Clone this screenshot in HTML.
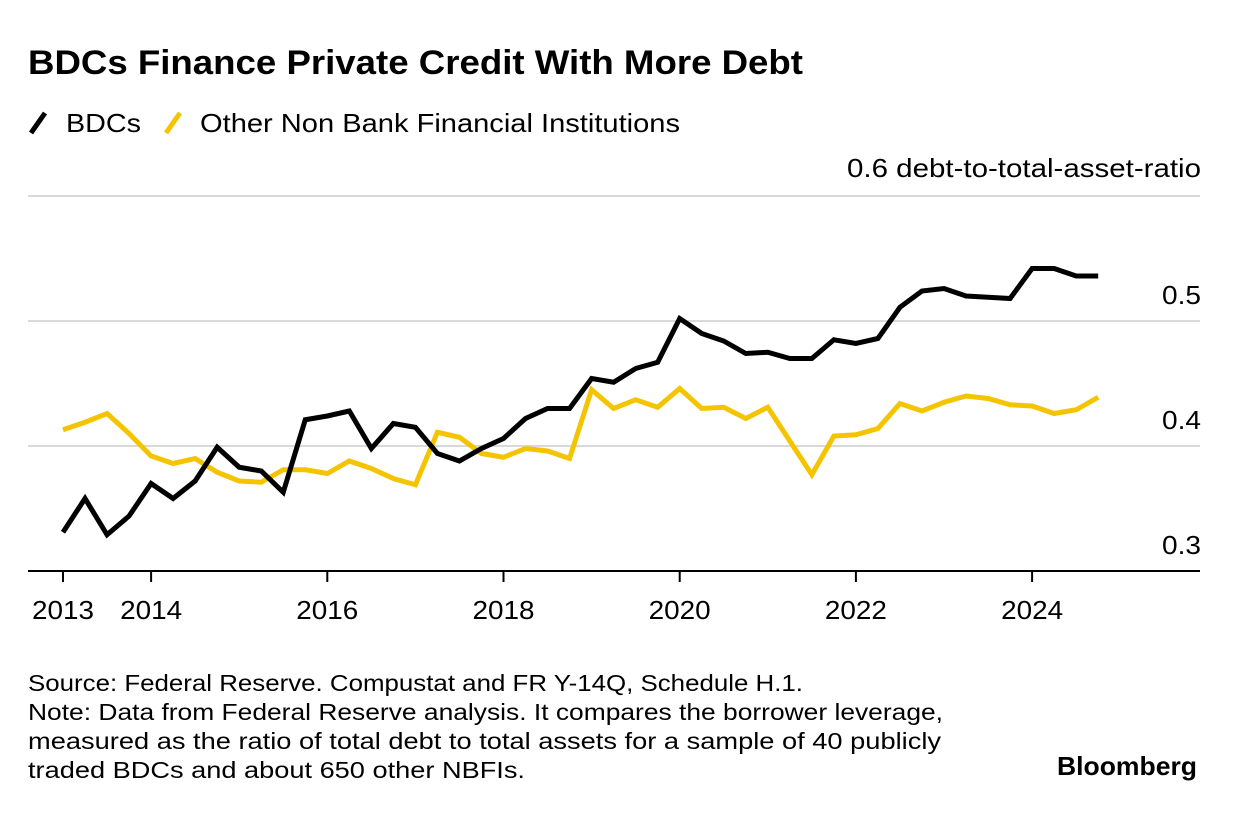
<!DOCTYPE html>
<html><head><meta charset="utf-8"><style>
body{margin:0;background:#fff;font-family:"Liberation Sans",Arial,sans-serif;}
svg text{font-family:"Liberation Sans",Arial,sans-serif;}
</style></head><body>
<svg width="1236" height="810" viewBox="0 0 1236 810" xmlns="http://www.w3.org/2000/svg">
<text x="28" y="74" font-size="34" font-weight="bold" fill="#000" textLength="775" lengthAdjust="spacingAndGlyphs">BDCs Finance Private Credit With More Debt</text>
<g>
<line x1="31" y1="133" x2="45" y2="113" stroke="#000" stroke-width="5"/>
<text x="66" y="132" font-size="26" fill="#000" textLength="75" lengthAdjust="spacingAndGlyphs">BDCs</text>
<line x1="166" y1="133" x2="180" y2="113" stroke="#f5c400" stroke-width="5"/>
<text x="200" y="132" font-size="26" fill="#000" textLength="480" lengthAdjust="spacingAndGlyphs">Other Non Bank Financial Institutions</text>
</g>
<g id="grid"></g>
<g id="series"></g>
<g id="xaxis"></g>
<text x="28" y="691" font-size="23" fill="#000" textLength="775" lengthAdjust="spacingAndGlyphs">Source: Federal Reserve. Compustat and FR Y-14Q, Schedule H.1.</text>
<text x="28" y="720" font-size="23" fill="#000" textLength="915" lengthAdjust="spacingAndGlyphs">Note: Data from Federal Reserve analysis. It compares the borrower leverage,</text>
<text x="28" y="749" font-size="23" fill="#000" textLength="913" lengthAdjust="spacingAndGlyphs">measured as the ratio of total debt to total assets for a sample of 40 publicly</text>
<text x="28" y="778" font-size="23" fill="#000" textLength="497" lengthAdjust="spacingAndGlyphs">traded BDCs and about 650 other NBFIs.</text>
<text x="1197" y="775" font-size="26" font-weight="bold" text-anchor="end" fill="#000" textLength="140" lengthAdjust="spacingAndGlyphs">Bloomberg</text>
</svg>
<script>
const bdcs=[0.331,0.358,0.329,0.344,0.370,0.358,0.372,0.399,0.383,0.380,0.363,0.421,0.424,0.428,0.398,0.418,0.415,0.394,0.388,0.398,0.406,0.422,0.430,0.430,0.454,0.451,0.462,0.467,0.502,0.490,0.484,0.474,0.475,0.470,0.470,0.485,0.482,0.486,0.511,0.524,0.526,0.520,0.519,0.518,0.542,0.542,0.536,0.536];
const nbfi=[0.413,0.419,0.426,0.410,0.392,0.386,0.390,0.379,0.372,0.371,0.381,0.381,0.378,0.388,0.382,0.374,0.369,0.411,0.407,0.394,0.391,0.398,0.396,0.390,0.445,0.430,0.437,0.431,0.446,0.430,0.431,0.422,0.431,0.404,0.377,0.408,0.409,0.414,0.434,0.428,0.435,0.440,0.438,0.433,0.432,0.426,0.429,0.439];
const yTicks=[0.3,0.4,0.5,0.6];
const xTicks=[2013,2014,2016,2018,2020,2022,2024];
const NS='http://www.w3.org/2000/svg';
const xS=t=>63+(t-2013)*88.1;
const yS=v=>571-(v-0.3)*1250;
const xQ=i=>xS(2013+i/4);
function mk(tag,attrs,parent){const e=document.createElementNS(NS,tag);for(const k in attrs)e.setAttribute(k,attrs[k]);document.getElementById(parent).appendChild(e);return e;}
yTicks.forEach(v=>{
  if(v>0.3){
    const g=mk('line',{x1:28,x2:1200,y1:yS(v),y2:yS(v),stroke:'#d9d9d9','stroke-width':2},'grid');
    
    
  }
  const a={x:1201,y:yS(v)-17,'font-size':26,'text-anchor':'end',fill:'#000'};
  if(v===0.6){a.textLength=354;a.lengthAdjust='spacingAndGlyphs';a.y=yS(v)-19;}
  else{a.textLength=39;a.lengthAdjust='spacingAndGlyphs';}
  const t=mk('text',a,'grid');
  t.textContent=v===0.6?'0.6 debt-to-total-asset-ratio':v.toFixed(1);
  
  
});
function line(data,color,name){
  const p=mk('polyline',{points:data.map((v,i)=>xQ(i)+','+yS(v)).join(' '),fill:'none',stroke:color,'stroke-width':5,'stroke-linejoin':'miter','stroke-linecap':'butt'},'series');
  
  
}
line(nbfi,'#f5c400','nbfi-line');
line(bdcs,'#000','bdcs-line');
const base=mk('line',{x1:28,x2:1200,y1:571,y2:571,stroke:'#000','stroke-width':2},'xaxis');


xTicks.forEach(y=>{
  const tk=mk('line',{x1:xS(y),x2:xS(y),y1:571,y2:582,stroke:'#000','stroke-width':2},'xaxis');
  
  
  const t=mk('text',{x:xS(y),y:619,'font-size':26,'text-anchor':'middle',fill:'#000',textLength:62,lengthAdjust:'spacingAndGlyphs'},'xaxis');
  t.textContent=y;
  
  
});
</script>
</body></html>
